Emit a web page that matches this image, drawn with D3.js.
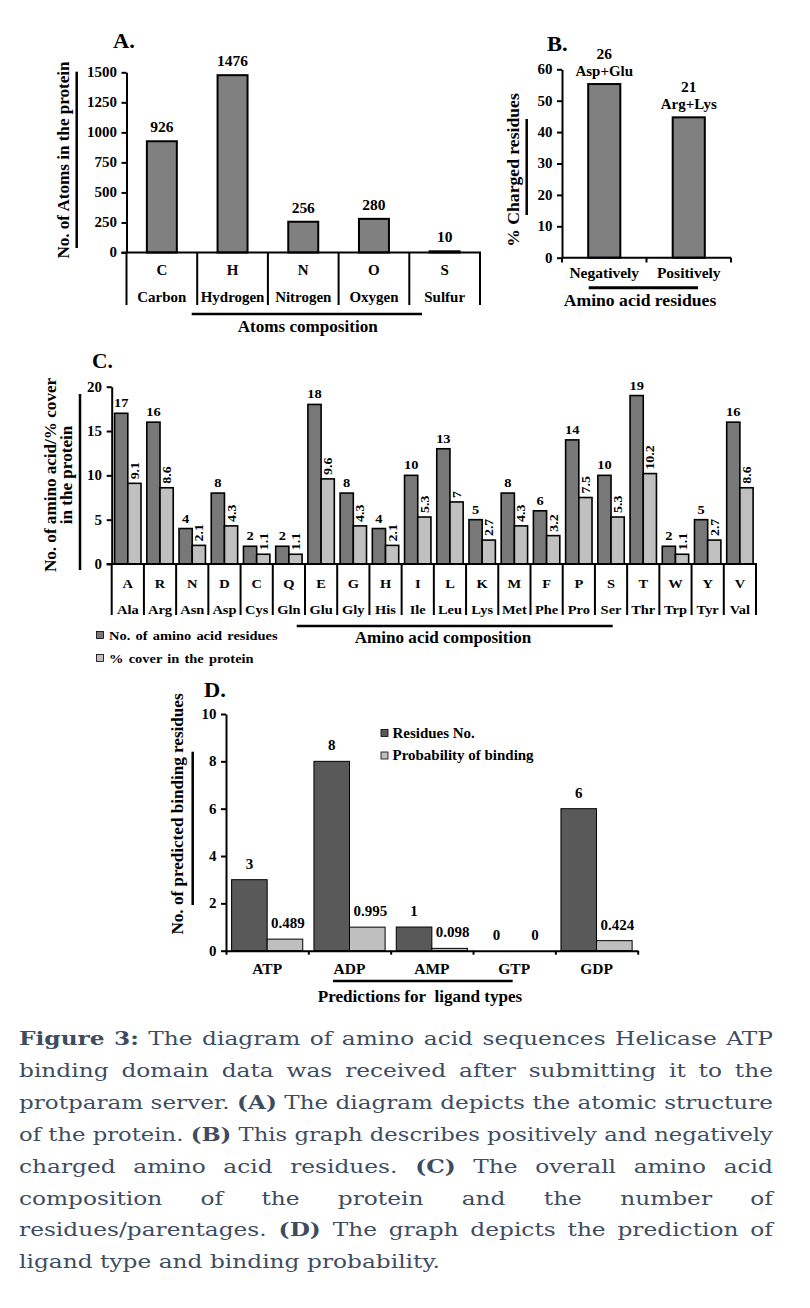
<!DOCTYPE html>
<html>
<head>
<meta charset="utf-8">
<script src="https://cdn.jsdelivr.net/npm/d3@7"></script>
<style>
  body { margin: 0; background: #fff; }
  svg .chart text { font-family: "Liberation Serif", "Times New Roman", serif; font-weight: bold; fill: #000; }
  svg .caption text { font-family: "DejaVu Serif", serif; fill: #3e4c5f; }
</style>
</head>
<body>
<svg id="fig" width="810" height="1308"></svg>
<script>
// ---- A. atoms composition
const atomSymbols = ["C", "H", "N", "O", "S"];
const atomNames = ["Carbon", "Hydrogen", "Nitrogen", "Oxygen", "Sulfur"];
const atomCounts = [926, 1476, 256, 280, 10];
const atomTicks = [0, 250, 500, 750, 1000, 1250, 1500];

// ---- B. charged residues
const chargeGroups = ["Negatively", "Positively"];
const chargePercent = [55.3, 44.7];
const chargeCounts = [26, 21];
const chargeResidues = ["Asp+Glu", "Arg+Lys"];
const chargeTicks = [0, 10, 20, 30, 40, 50, 60];

// ---- C. amino acid composition
const aaLetters = ["A", "R", "N", "D", "C", "Q", "E", "G", "H", "I", "L", "K", "M", "F", "P", "S", "T", "W", "Y", "V"];
const aaNames = ["Ala", "Arg", "Asn", "Asp", "Cys", "Gln", "Glu", "Gly", "His", "Ile", "Leu", "Lys", "Met", "Phe", "Pro", "Ser", "Thr", "Trp", "Tyr", "Val"];
const aaCounts = [17, 16, 4, 8, 2, 2, 18, 8, 4, 10, 13, 5, 8, 6, 14, 10, 19, 2, 5, 16];
const aaPercent = [9.1, 8.6, 2.1, 4.3, 1.1, 1.1, 9.6, 4.3, 2.1, 5.3, 7, 2.7, 4.3, 3.2, 7.5, 5.3, 10.2, 1.1, 2.7, 8.6];
const aaTicks = [0, 5, 10, 15, 20];
const aaSeries = ["No. of amino acid residues", "% cover in the protein"];

// ---- D. ligand predictions
const ligands = ["ATP", "ADP", "AMP", "GTP", "GDP"];
const ligandResidues = [3, 8, 1, 0, 6];
const ligandProb = [0.489, 0.995, 0.098, 0, 0.424];
const ligandTicks = [0, 2, 4, 6, 8, 10];
const ligandSeries = ["Residues No.", "Probability of binding"];

// ---- caption, one entry per printed line, [text, bold]
const captionLines = [
  [["Figure 3:", 1], ["The diagram of amino acid sequences Helicase ATP", 0]],
  [["binding domain data was received after submitting it to the", 0]],
  [["protparam server.", 0], ["(A)", 1], ["The diagram depicts the atomic structure", 0]],
  [["of the protein.", 0], ["(B)", 1], ["This graph describes positively and negatively", 0]],
  [["charged amino acid residues.", 0], ["(C)", 1], ["The overall amino acid", 0]],
  [["composition of the protein and the number of", 0]],
  [["residues/parentages.", 0], ["(D)", 1], ["The graph depicts the prediction of", 0]],
  [["ligand type and binding probability.", 0]]
];

// the scanned figure's type is a bit wider than Times
const SX = 1.07;

const svg = d3.select("#fig");
svg.append("rect").attr("width", 810).attr("height", 1308).attr("fill", "#fff");
const chart = svg.append("g").attr("class", "chart");

function line(g, x1, y1, x2, y2, w) {
  g.append("line").attr("x1", x1).attr("y1", y1).attr("x2", x2).attr("y2", y2)
    .attr("stroke", "#000").attr("stroke-width", w);
}

function txt(g, x, y, s, size, anchor) {
  return g.append("text").attr("transform", `translate(${x},${y}) scale(${SX},1)`)
    .attr("font-size", size).attr("text-anchor", anchor || "middle").text(s);
}

function vLabel(g, cx, cy, lines, size, gap) {
  const t = g.append("text").attr("transform", `translate(${cx},${cy}) rotate(-90) scale(${SX},1)`)
    .attr("font-size", size).attr("text-anchor", "middle");
  lines.forEach((s, i) => {
    t.append("tspan").attr("x", 0).attr("y", (i - (lines.length - 1) / 2) * gap).attr("dy", "0.35em").text(s);
  });
}

function yAxis(g, y, ticks, x, size) {
  const ax = g.append("g").attr("transform", `translate(${x},0)`)
    .call(d3.axisLeft(y).tickValues(ticks).tickSize(5).tickSizeOuter(0).tickPadding(4).tickFormat(d3.format("d")));
  ax.attr("font-family", null).attr("font-size", null);
  ax.select(".domain").attr("stroke-width", 2);
  ax.selectAll(".tick line").attr("stroke-width", 2);
  ax.selectAll(".tick text").attr("font-size", size).attr("transform", `scale(${SX},1)`);
  return ax;
}

// ================= A =================
{
  const g = chart.append("g");
  const y = d3.scaleLinear().domain([0, 1500]).range([252.5, 72.3]);
  const x = d3.scaleBand().domain(atomSymbols).range([126.5, 480]).paddingInner(0.576).paddingOuter(0.288);
  const step = x.step();

  txt(g, 113, 48, "A.", 21, "start");
  yAxis(g, y, atomTicks, 126.5, 14);

  g.selectAll("rect.bar").data(atomCounts).join("rect").attr("class", "bar")
    .attr("x", (d, i) => x(atomSymbols[i])).attr("width", x.bandwidth())
    .attr("y", d => y(d)).attr("height", d => y(0) - y(d))
    .attr("fill", "#808080").attr("stroke", "#000").attr("stroke-width", 2);

  atomCounts.forEach((d, i) => txt(g, x(atomSymbols[i]) + x.bandwidth() / 2, y(d) - 9, d, 14.5));

  line(g, 121.5, 252.5, 481, 252.5, 2);
  d3.range(atomSymbols.length + 1).forEach(i => line(g, 126.5 + i * step, 252.5, 126.5 + i * step, 305, 2));
  atomSymbols.forEach((s, i) => {
    const cx = 126.5 + (i + 0.5) * step;
    txt(g, cx, 275, s, 14);
    txt(g, cx, 301.5, atomNames[i], 14);
  });
  line(g, 191.7, 314, 422, 314, 2.5);
  txt(g, 307.7, 332, "Atoms composition", 16);
  vLabel(g, 63.5, 160, ["No. of Atoms in the protein"], 16, 0);
  line(g, 76.7, 71.7, 76.7, 248, 2.5);
}

// ================= B =================
{
  const g = chart.append("g");
  const y = d3.scaleLinear().domain([0, 60]).range([257.7, 69.3]);
  const x = d3.scaleBand().domain(chargeGroups).range([562, 731]).paddingInner(0.62).paddingOuter(0.31);
  const step = x.step();

  txt(g, 547, 51, "B.", 21, "start");
  yAxis(g, y, chargeTicks, 562, 14);

  g.selectAll("rect.bar").data(chargePercent).join("rect").attr("class", "bar")
    .attr("x", (d, i) => x(chargeGroups[i])).attr("width", x.bandwidth())
    .attr("y", d => y(d)).attr("height", d => y(0) - y(d))
    .attr("fill", "#808080").attr("stroke", "#000").attr("stroke-width", 2);

  chargePercent.forEach((d, i) => {
    const cx = x(chargeGroups[i]) + x.bandwidth() / 2;
    txt(g, cx, y(d) - 8, chargeResidues[i], 14);
    txt(g, cx, y(d) - 25, chargeCounts[i], 14.5);
  });

  line(g, 562, 257.7, 731, 257.7, 2);
  d3.range(chargeGroups.length + 1).forEach(i => line(g, 562 + i * step, 257.7, 562 + i * step, 262.5, 2));
  chargeGroups.forEach((s, i) => txt(g, 562 + (i + 0.5) * step, 278, s, 14.5));
  line(g, 588.7, 287.7, 698, 287.7, 3);
  txt(g, 640, 305.5, "Amino acid residues", 16.5);
  vLabel(g, 513, 170, ["% Charged residues"], 16.5, 0);
  line(g, 526.7, 119, 526.7, 215, 2.5);
}

// ================= C =================
{
  const g = chart.append("g");
  const y = d3.scaleLinear().domain([0, 20]).range([564, 386.7]);
  const x = d3.scaleBand().domain(aaLetters).range([111.7, 756]).padding(0);
  const xs = d3.scaleBand().domain(aaSeries).range([0, x.step()]).paddingInner(0).paddingOuter(0.22);
  const fills = ["#787878", "#c0c0c0"];

  txt(g, 92, 368, "C.", 20, "start");
  yAxis(g, y, aaTicks, 111.7, 14);

  const rows = aaLetters.map((k, i) => ({ k, v: [aaCounts[i], aaPercent[i]] }));
  const grp = g.selectAll("g.grp").data(rows).join("g").attr("class", "grp")
    .attr("transform", d => `translate(${x(d.k)},0)`);
  grp.selectAll("rect").data(d => d.v.map((v, j) => ({ v, j }))).join("rect")
    .attr("x", d => xs(aaSeries[d.j])).attr("width", xs.bandwidth())
    .attr("y", d => y(d.v)).attr("height", d => y(0) - y(d.v))
    .attr("fill", d => fills[d.j]).attr("stroke", "#000").attr("stroke-width", 1.6);
  grp.append("text")
    .attr("transform", d => `translate(${xs(aaSeries[0]) + xs.bandwidth() / 2},${y(d.v[0]) - 6}) scale(${SX},1)`)
    .attr("font-size", 13.5).attr("text-anchor", "middle").text(d => d.v[0]);
  grp.append("text")
    .attr("transform", d => `translate(${xs(aaSeries[1]) + xs.bandwidth() / 2 + 4.5},${y(d.v[1]) - 4}) rotate(-90) scale(${SX},1)`)
    .attr("font-size", 13).attr("text-anchor", "start").text(d => d.v[1]);

  line(g, 106.7, 564, 757, 564, 2);
  d3.range(aaLetters.length + 1).forEach(i => line(g, 111.7 + i * x.step(), 564, 111.7 + i * x.step(), 615, 2));
  aaLetters.forEach((s, i) => {
    const cx = x(s) + x.step() / 2;
    txt(g, cx, 587.5, s, 13.5);
    txt(g, cx, 614, aaNames[i], 13.5);
  });
  line(g, 296.7, 626, 612.7, 626, 2.5);
  txt(g, 443, 643, "Amino acid composition", 16);

  aaSeries.forEach((s, j) => {
    const ly = 631.5 + j * 23;
    g.append("rect").attr("x", 96.5).attr("y", ly).attr("width", 7).attr("height", 7)
      .attr("fill", fills[j]).attr("stroke", "#000").attr("stroke-width", 0.8);
    txt(g, 109, ly + 8, s, 13.5, "start").attr("word-spacing", 1.5);
  });

  vLabel(g, 58.5, 475, ["No. of amino acid/% cover", "in the protein"], 16, 16.7);
  line(g, 80, 394, 80, 570, 2.5);
}

// ================= D =================
{
  const g = chart.append("g");
  const y = d3.scaleLinear().domain([0, 10]).range([950.7, 714]);
  const x = d3.scaleBand().domain(ligands).range([226, 637.7]).padding(0);
  const xs = d3.scaleBand().domain(ligandSeries).range([0, x.step()]).paddingInner(0).paddingOuter(0.157);
  const fills = ["#595959", "#bfbfbf"];

  txt(g, 204, 697, "D.", 21, "start");
  yAxis(g, y, ligandTicks, 226, 14);

  const rows = ligands.map((k, i) => ({ k, v: [ligandResidues[i], ligandProb[i]] }));
  const grp = g.selectAll("g.grp").data(rows).join("g").attr("class", "grp")
    .attr("transform", d => `translate(${x(d.k)},0)`);
  grp.selectAll("rect").data(d => d.v.map((v, j) => ({ v, j }))).join("rect")
    .attr("x", d => xs(ligandSeries[d.j])).attr("width", xs.bandwidth())
    .attr("y", d => y(d.v)).attr("height", d => y(0) - y(d.v))
    .attr("fill", d => fills[d.j]).attr("stroke", "#000").attr("stroke-width", 1)
    .attr("display", d => d.v === 0 ? "none" : null);
  grp.selectAll("text.val").data(d => d.v.map((v, j) => ({ v, j }))).join("text").attr("class", "val")
    .attr("transform", d => `translate(${xs(ligandSeries[d.j]) + xs.bandwidth() / 2 + (d.j ? 3 : 0)},${y(d.v) - 11}) scale(${SX},1)`)
    .attr("font-size", 14).attr("text-anchor", "middle").text(d => d.v);

  const xa = g.append("g").attr("transform", "translate(0,950.7)")
    .call(d3.axisBottom(d3.scaleLinear().domain([0, ligands.length]).range([226, 637.7]))
      .tickValues(d3.range(ligands.length + 1)).tickSize(4).tickSizeOuter(0).tickFormat(""));
  xa.select(".domain").attr("stroke-width", 2);
  xa.selectAll(".tick line").attr("stroke-width", 2);

  ligands.forEach(s => txt(g, x(s) + x.step() / 2, 973.5, s, 14.5));
  line(g, 333, 981, 512.7, 981, 2.5);
  txt(g, 420, 1001.5, "Predictions for  ligand types", 16).style("white-space", "pre");

  ligandSeries.forEach((s, j) => {
    const ly = 729.5 + j * 22.5;
    g.append("rect").attr("x", 381).attr("y", ly).attr("width", 7).attr("height", 7)
      .attr("fill", fills[j]).attr("stroke", "#000").attr("stroke-width", 0.8);
    txt(g, 392.5, ly + 8, s, 14, "start");
  });

  vLabel(g, 177, 814, ["No. of predicted binding residues"], 16, 0);
  line(g, 192.7, 751.7, 192.7, 905, 2.5);
}

// ================= caption =================
{
  const g = svg.append("g").attr("class", "caption");
  const size = 18.5, left = 19, right = 773, top = 1045, lh = 31.9, lastEnd = 440;
  const probe = g.append("text").attr("font-size", size);
  const measure = (s, b) => {
    probe.style("font-weight", b ? "bold" : "normal").text(s);
    return probe.node().getComputedTextLength();
  };
  const space = measure("a a", 0) - measure("aa", 0);
  const lines = captionLines.map(segs => {
    const words = [];
    segs.forEach(([s, b]) => s.split(" ").forEach(w => words.push({ w, b, len: measure(w, b) })));
    return words;
  });
  probe.remove();
  const natural = lines.map(ws => d3.sum(ws, d => d.len) + space * (ws.length - 1));
  // horizontal stretch taken from the unjustified last line
  const kBase = (lastEnd - left) / natural[natural.length - 1];

  lines.forEach((ws, i) => {
    const last = i === lines.length - 1;
    const k = last ? kBase : Math.min(kBase, (right - left) / natural[i]);
    const target = (right - left) / k;
    const gap = last ? space : (target - d3.sum(ws, d => d.len)) / (ws.length - 1);
    let cx = 0;
    const lg = g.append("g").attr("transform", `translate(${left},${top + i * lh}) scale(${k},1)`);
    ws.forEach(d => {
      lg.append("text").attr("x", cx).attr("y", 0).attr("font-size", size)
        .style("font-weight", d.b ? "bold" : "normal").text(d.w);
      cx += d.len + gap;
    });
  });
}
</script>
</body>
</html>
